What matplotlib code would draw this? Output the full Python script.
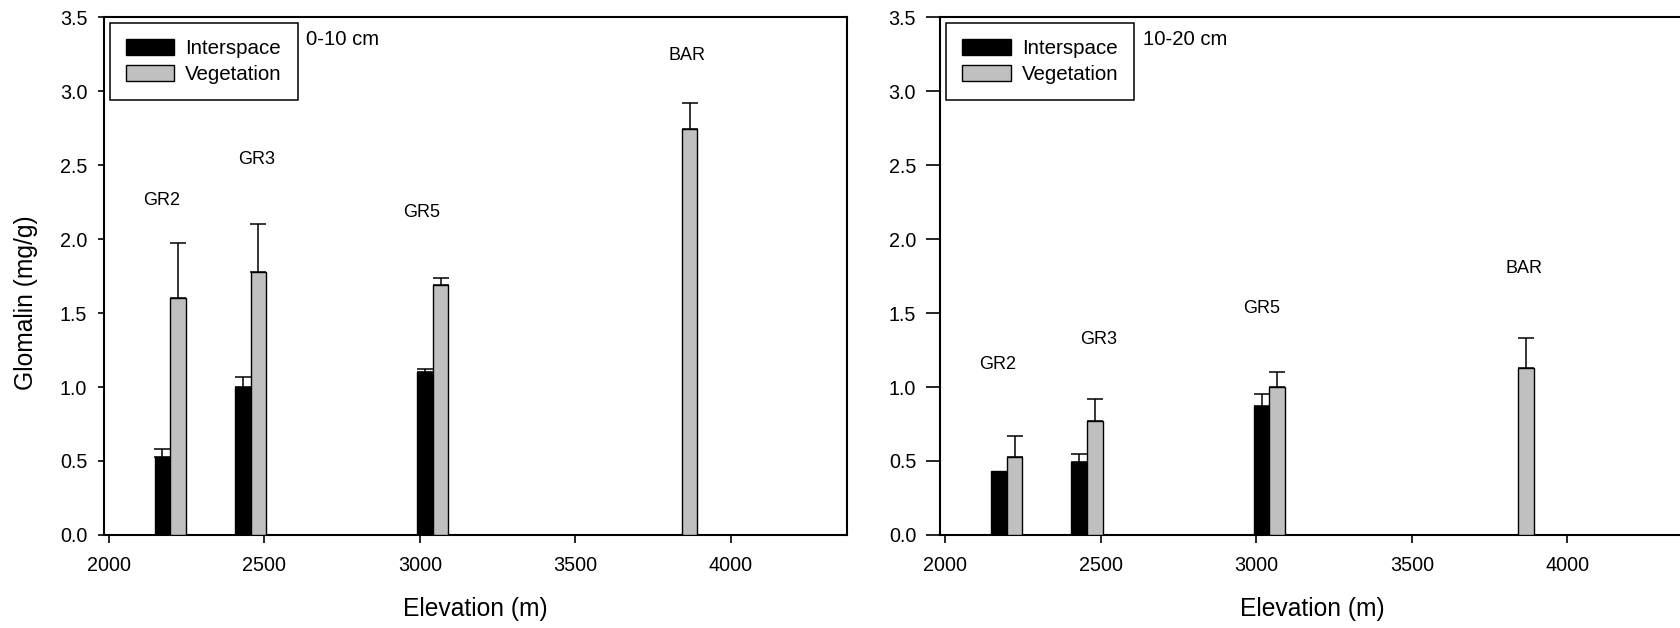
import numpy as np
import matplotlib
matplotlib.use("Agg")
import matplotlib.pyplot as plt
from matplotlib.patches import Patch

plt.rcParams["font.family"] = ["Liberation Sans", "DejaVu Sans"]

# Site elevations (m) and names
sites = ["GR2", "GR3", "GR5", "BAR"]
elevation = [2198, 2456, 3042, 3842]

# Glomalin (mg/g), 0-10 cm depth
inter_0_10 = [0.53, 1.00, 1.10, np.nan]
inter_0_10_err = [0.05, 0.065, 0.025, np.nan]
veg_0_10 = [1.60, 1.78, 1.69, 2.74]
veg_0_10_err = [0.37, 0.32, 0.045, 0.18]

# Glomalin (mg/g), 10-20 cm depth
inter_10_20 = [0.43, 0.49, 0.87, np.nan]
inter_10_20_err = [0.0, 0.056, 0.08, np.nan]
veg_10_20 = [0.53, 0.77, 1.00, 1.13]
veg_10_20_err = [0.14, 0.15, 0.10, 0.20]

# Site label positions (elevation, glomalin) in each panel
label_x_0_10 = [2169, 2474, 3006, 3858]
label_y_0_10 = [2.26, 2.54, 2.18, 3.24]
label_x_10_20 = [2168, 2494, 3018, 3860]
label_y_10_20 = [1.155, 1.32, 1.53, 1.80]

depth_titles = ["0-10 cm", "10-20 cm"]

BAR_W = 50
GRAY = "#c0c0c0"

fig = plt.figure(figsize=(16.8, 6.28), dpi=100)
ax_l = fig.add_axes([0.0619, 0.1481, 0.4421, 0.8248])
ax_r = fig.add_axes([0.5598, 0.1481, 0.4421, 0.8248])


def draw_series(ax, x, vals, errs, offset, color):
    x = np.asarray(x, float)
    vals = np.asarray(vals, float)
    errs = np.asarray(errs, float)
    ok = ~np.isnan(vals)
    ax.bar(x[ok] + offset, vals[ok], width=BAR_W, align="edge",
           color=color, edgecolor="black", linewidth=1.0, zorder=3)
    has_err = ok & ~np.isnan(errs) & (errs > 0)
    ax.errorbar(x[has_err] + offset + BAR_W / 2, vals[has_err],
                yerr=[np.zeros(has_err.sum()), errs[has_err]],
                fmt="none", ecolor="black", elinewidth=1.1,
                capsize=5.5, capthick=1.1, zorder=2)


panels = [
    (ax_l, inter_0_10, inter_0_10_err, veg_0_10, veg_0_10_err,
     label_x_0_10, label_y_0_10, depth_titles[0], 4.5),
    (ax_r, inter_10_20, inter_10_20_err, veg_10_20, veg_10_20_err,
     label_x_10_20, label_y_10_20, depth_titles[1], 10.0),
]

for ax, iv, ie, vv, ve, lx, ly, title, ytick_len in panels:
    draw_series(ax, elevation, iv, ie, -BAR_W, "black")
    draw_series(ax, elevation, vv, ve, 0, GRAY)

    for name, tx, ty in zip(sites, lx, ly):
        ax.text(tx, ty, name, ha="center", va="center", fontsize=13)

    ax.text(2635, 3.35, title, ha="left", va="center", fontsize=14.6)

    ax.set_xlim(1985, 4372)
    ax.set_ylim(0, 3.5)
    ax.set_xticks(np.arange(2000, 4001, 500))
    ax.set_yticks(np.arange(0, 3.51, 0.5))
    ax.set_yticklabels([f"{v:.1f}" for v in np.arange(0, 3.51, 0.5)])
    ax.tick_params(axis="x", direction="out", length=6, width=1.2,
                   labelsize=14.2, pad=9)
    ax.tick_params(axis="y", direction="out", length=ytick_len, width=1.2,
                   labelsize=14.2, pad=7.5)
    for sp in ax.spines.values():
        sp.set_linewidth(1.5)

    ax.set_xlabel("Elevation (m)", fontsize=17.7, va="center")
    ax.xaxis.set_label_coords(0.5, -0.143)

    handles = [Patch(facecolor="black", edgecolor="black", linewidth=1.0),
               Patch(facecolor=GRAY, edgecolor="black", linewidth=1.0)]
    leg = ax.legend(handles, ["Interspace", "Vegetation"], loc="upper left",
                    bbox_to_anchor=(0.008, 0.989), borderaxespad=0,
                    fontsize=14.8, fancybox=False, framealpha=1,
                    edgecolor="black", handlelength=2.34, handleheight=0.81,
                    handletextpad=0.54, borderpad=0.78, labelspacing=0.36)
    leg.get_frame().set_linewidth(1.1)

ax_l.set_ylabel("Glomalin (mg/g)", fontsize=17.7, va="center")
ax_l.yaxis.set_label_coords(-0.1046, 0.448)

fig.savefig("out.png", dpi=100)
